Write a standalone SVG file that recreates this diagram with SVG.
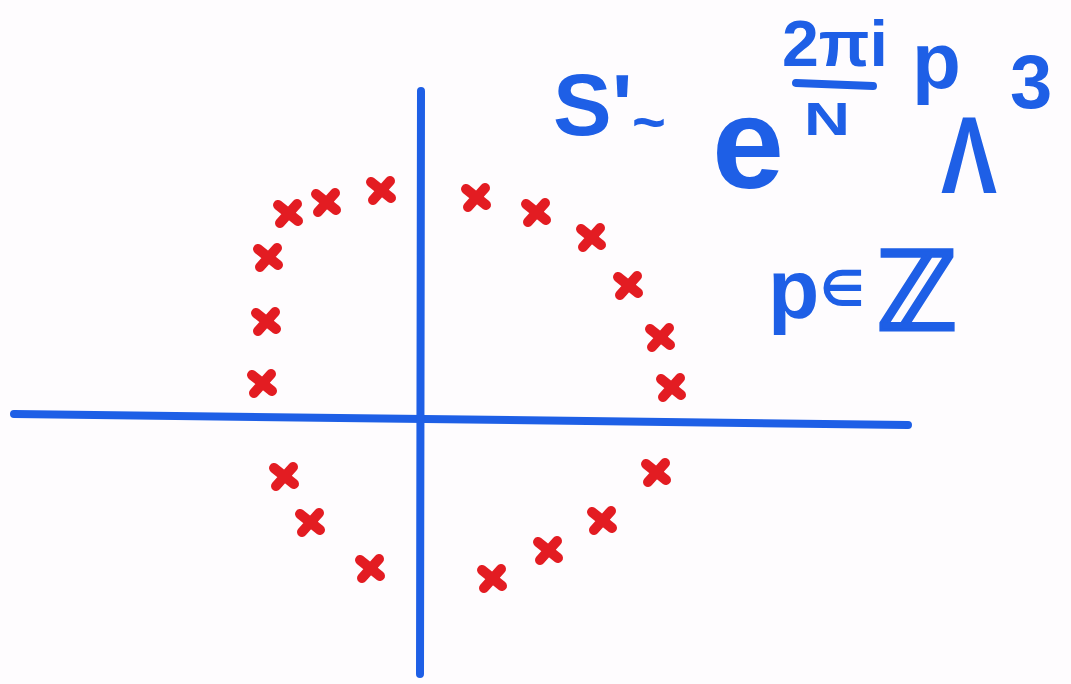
<svg xmlns="http://www.w3.org/2000/svg" width="1071" height="684" viewBox="0 0 1071 684">
<style>
.ax{stroke:#1e5fe6;stroke-width:8;stroke-linecap:round;fill:none}
.x{stroke:#e31c22;stroke-width:10;stroke-linecap:round;fill:none}
.t{fill:#1e5fe6;font-family:"Liberation Sans","DejaVu Sans",sans-serif;font-weight:bold}
</style>
<defs>
<g id="cross"><path class="x" d="M-10,-8 L10,8 M9,-9 L-8,10"/></g>
</defs>
<rect width="1071" height="684" fill="#fefcfe"/>
<g id="axes">
<path class="ax" d="M14,414 L908,425"/>
<path class="ax" d="M421,91 L420,674"/>
</g>
<g id="crosses">
<use href="#cross" x="262" y="383"/>
<use href="#cross" x="266" y="321"/>
<use href="#cross" x="268" y="257"/>
<use href="#cross" x="288" y="213"/>
<use href="#cross" x="326" y="202"/>
<use href="#cross" x="381" y="190"/>
<use href="#cross" x="476" y="197"/>
<use href="#cross" x="536" y="212"/>
<use href="#cross" x="591" y="237"/>
<use href="#cross" x="628" y="285"/>
<use href="#cross" x="660" y="337"/>
<use href="#cross" x="671" y="387"/>
<use href="#cross" x="284" y="476"/>
<use href="#cross" x="310" y="522"/>
<use href="#cross" x="370" y="568"/>
<use href="#cross" x="492" y="578"/>
<use href="#cross" x="548" y="550"/>
<use href="#cross" x="602" y="520"/>
<use href="#cross" x="656" y="472"/>
</g>
<g id="formula">
<text class="t" x="553" y="135" font-size="88">S'</text>
<text class="t" x="632" y="142" font-size="58">~</text>
<text class="t" x="712" y="188" font-size="130" textLength="72" lengthAdjust="spacingAndGlyphs">e</text>
<text class="t" x="782" y="66" font-size="64" textLength="106" lengthAdjust="spacingAndGlyphs">2πi</text>
<path class="ax" d="M796,83 L873,86" stroke-width="9"/>
<text class="t" x="804" y="135" font-size="46" textLength="46" lengthAdjust="spacingAndGlyphs">N</text>
<text class="t" x="912" y="88" font-size="80">p</text>
<text class="t" x="941" y="193" font-size="110" textLength="56" lengthAdjust="spacingAndGlyphs">Λ</text>
<text class="t" x="1010" y="108" font-size="76">3</text>
</g>
<g id="condition">
<text class="t" x="768" y="318" font-size="84">p</text>
<text class="t" x="820" y="306" font-size="50">∈</text>
<text class="t" x="876" y="330" font-size="110" textLength="82" lengthAdjust="spacingAndGlyphs" stroke="#1e5fe6" stroke-width="3">ℤ</text>
</g>
</svg>
